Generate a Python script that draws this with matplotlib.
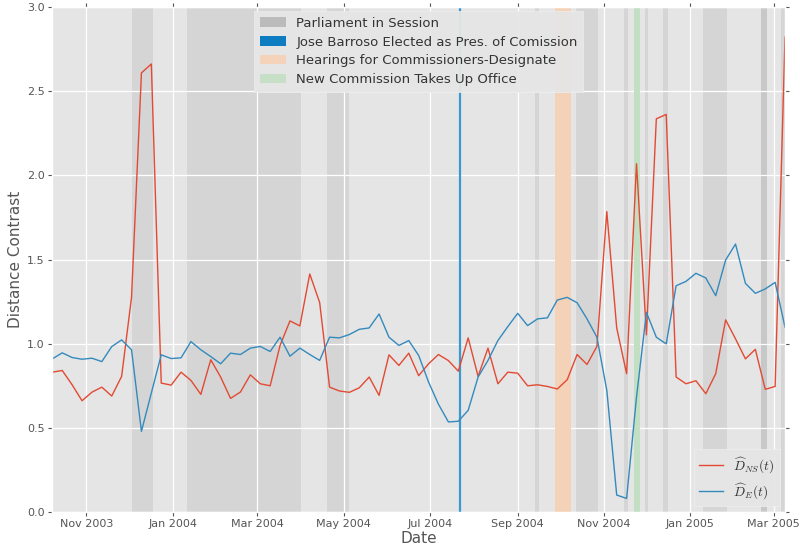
import matplotlib
matplotlib.use("Agg")
import matplotlib.pyplot as plt
import matplotlib.dates as mdates
from matplotlib.patches import Patch
import pandas as pd

plt.style.use("ggplot")
plt.rcParams["font.family"] = ["DejaVu Sans"]
plt.rcParams["mathtext.fontset"] = "cm"

# weekly observations
dates = pd.date_range("2003-10-08", periods=75, freq="7D")

d_ns = [0.830, 0.840, 0.755, 0.660, 0.711, 0.741, 0.688, 0.805, 1.275, 2.610,
        2.663, 0.765, 0.753, 0.830, 0.781, 0.698, 0.904, 0.801, 0.674, 0.712,
        0.814, 0.761, 0.749, 0.989, 1.135, 1.105, 1.414, 1.244, 0.741, 0.718,
        0.710, 0.737, 0.801, 0.692, 0.933, 0.870, 0.943, 0.809, 0.880, 0.935,
        0.899, 0.836, 1.034, 0.805, 0.973, 0.761, 0.830, 0.824, 0.749, 0.755,
        0.745, 0.730, 0.785, 0.935, 0.876, 0.983, 1.785, 1.093, 0.821, 2.070,
        1.052, 2.337, 2.363, 0.801, 0.761, 0.779, 0.702, 0.821, 1.141, 1.028,
        0.909, 0.966, 0.728, 0.745, 2.823]

d_e = [0.909, 0.945, 0.917, 0.907, 0.913, 0.893, 0.982, 1.022, 0.963, 0.478,
       0.706, 0.933, 0.911, 0.915, 1.012, 0.963, 0.923, 0.880, 0.943, 0.935,
       0.973, 0.983, 0.953, 1.038, 0.925, 0.973, 0.935, 0.900, 1.038, 1.034,
       1.054, 1.085, 1.093, 1.176, 1.038, 0.989, 1.018, 0.929, 0.771, 0.639,
       0.534, 0.538, 0.603, 0.801, 0.900, 1.018, 1.101, 1.180, 1.107, 1.147,
       1.153, 1.259, 1.275, 1.243, 1.147, 1.038, 0.722, 0.099, 0.079, 0.682,
       1.186, 1.038, 0.998, 1.344, 1.370, 1.418, 1.390, 1.285, 1.497, 1.592,
       1.358, 1.299, 1.325, 1.364, 1.097]

# parliament sessions (start, end)
sessions = [("2003-12-03", "2003-12-18"), ("2004-01-11", "2004-04-01"),
            ("2004-04-19", "2004-05-05"), ("2004-09-13", "2004-09-16"),
            ("2004-10-12", "2004-10-28"), ("2004-11-15", "2004-11-18"),
            ("2004-11-30", "2004-12-02"), ("2004-12-13", "2004-12-16"),
            ("2005-01-10", "2005-01-27"), ("2005-02-20", "2005-02-24"),
            ("2005-02-20", "2005-02-24"), ("2005-03-06", "2005-03-12")]
barroso_elected = "2004-07-22"
hearings = ("2004-09-27 16:00", "2004-10-08 12:00")
new_commission = ("2004-11-22", "2004-11-26 12:00")

fig = plt.figure(figsize=(8.0, 5.51), dpi=100)
ax = fig.add_axes([0.0654, 0.0713, 0.9159, 0.9154])

for s, e in sessions:
    ax.axvspan(pd.Timestamp(s), pd.Timestamp(e), color="gray", alpha=0.15,
               lw=0, zorder=0.5)
ax.axvspan(pd.Timestamp(hearings[0]), pd.Timestamp(hearings[1]),
           color="#F4D2B8", lw=0, zorder=0.6)
ax.axvspan(pd.Timestamp(new_commission[0]), pd.Timestamp(new_commission[1]),
           color="#C3DFC3", lw=0, zorder=0.6)
ax.axvline(pd.Timestamp(barroso_elected), color="#3A9AD0", lw=1.6, zorder=1.5)

l1, = ax.plot(dates, d_ns, color="#E24A33", lw=1.0, zorder=2)
l2, = ax.plot(dates, d_e, color="#348ABD", lw=1.0, zorder=2)

ax.set_xlim(dates[0], dates[-1])
ax.set_ylim(0, 3.0)
ax.set_yticks([0.0, 0.5, 1.0, 1.5, 2.0, 2.5, 3.0])
ax.xaxis.set_major_locator(mdates.MonthLocator(bymonth=[1, 3, 5, 7, 9, 11]))
ax.xaxis.set_major_formatter(mdates.DateFormatter("%b %Y"))
ax.tick_params(axis="both", which="both", direction="out", top=True,
               right=True, labelsize=8, colors="#555555", length=3, pad=2.5)
ax.set_xlabel("Date", fontsize=11, color="#555555", labelpad=1)
ax.set_ylabel("Distance Contrast", fontsize=11, color="#555555", labelpad=3)
ax.grid(True, color="white", lw=0.9)

handles = [Patch(facecolor="#BBBBBB", edgecolor="none"),
           Patch(facecolor="#0E7CC0", edgecolor="none"),
           Patch(facecolor="#F5D3BA", edgecolor="none"),
           Patch(facecolor="#C6DFC6", edgecolor="none")]
labels = ["Parliament in Session",
          "Jose Barroso Elected as Pres. of Comission",
          "Hearings for Commissioners-Designate",
          "New Commission Takes Up Office"]
leg1 = ax.legend(handles, labels, loc="upper center", fontsize=9.5,
                 facecolor="#E6E6E6", edgecolor="#EFEFEF", framealpha=0.95,
                 fancybox=False, borderaxespad=0.3, labelspacing=0.45)
for t in leg1.get_texts():
    t.set_color("#333333")
ax.add_artist(leg1)

leg2 = ax.legend([l1, l2], [r"$\widehat{D}_{NS}(t)$", r"$\widehat{D}_{E}(t)$"],
                 loc="lower right", fontsize=9.5, facecolor="#E6E6E6",
                 edgecolor="#EFEFEF", framealpha=0.95, fancybox=False,
                 borderaxespad=0.4, handlelength=1.8)
for t in leg2.get_texts():
    t.set_color("#333333")

fig.savefig("out.png", dpi=100)
